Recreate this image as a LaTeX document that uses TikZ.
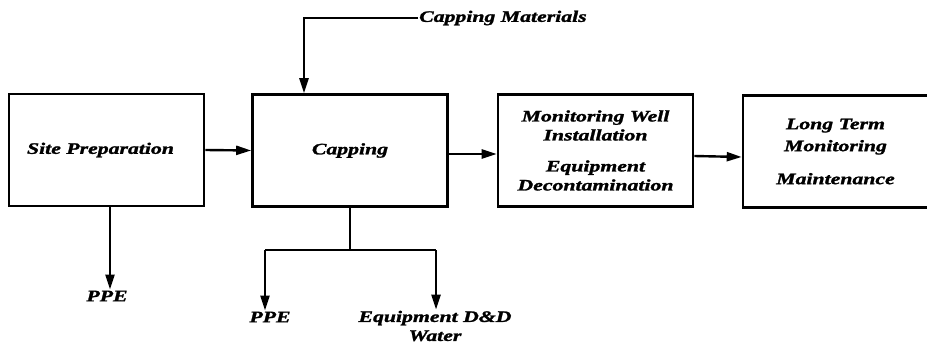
\documentclass[tikz,border=0pt]{standalone}
\usepackage{fontspec}
\newfontfamily\labfont{Liberation Serif}[FakeStretch=1.36,FakeBold=1.6]
\usetikzlibrary{arrows.meta}
\begin{document}
\begin{tikzpicture}[x=1pt,y=-1pt,
  txt/.style={font=\labfont\bfseries\itshape\fontsize{16}{19}\selectfont, align=center, inner sep=1pt},
  box/.style={draw, line width=2.6pt, minimum width=195pt, minimum height=112pt, txt},
  arr/.style={line width=2.4pt, -{Triangle[length=15pt,width=9pt]}},
  ln/.style={line width=2.2pt}]
\useasboundingbox (0,0) rectangle (927,350);
\clip (0,0) rectangle (927,350);
\node[box] (site) at (106.5,150) {\hspace*{-12pt}Site Preparation};
\node[box] (cap) at (350,150.5) {Capping};
\node[box] (mon) at (595.5,150.5) {Monitoring Well\\Installation\\[12pt]Equipment\\Decontamination};
\node[box] (ltm) at (840.5,151.5) {\hspace*{-10pt}Long Term\\[3pt]\hspace*{-10pt}Monitoring\\[14pt]\hspace*{-10pt}Maintenance};
\node[txt, anchor=west] (cm) at (418,18) {Capping Materials};
\node[txt] (ppe1) at (107,296) {PPE};
\node[txt] (ppe2) at (270,317) {PPE};
\node[txt] (eq) at (435,326) {Equipment D\&D\\Water};
\coordinate (j) at (350,250);
\coordinate (jl) at (265,250);
\coordinate (jr) at (436,250);
\draw[arr] (site.east) -- (cap.west);
\draw[arr] ([yshift=-3.5pt]cap.east) -- ([yshift=-3.5pt]mon.west);
\draw[arr] ([yshift=-5.5pt]mon.east) -- ([yshift=-5.5pt]ltm.west);
\draw[arr] (cm.west) -| ([xshift=-46pt]cap.north);
\draw[arr] ([xshift=3.5pt]site.south) -- ([xshift=3.5pt]site.south |- ppe1.north);
\draw[line width=1.3pt] (cap.south) -- (j);
\draw[ln] (jl) -- (jr);
\draw[arr] (jl) -- (jl |- ppe2.north);
\draw[arr] (jr) -- (jr |- eq.north);
\end{tikzpicture}
\end{document}
